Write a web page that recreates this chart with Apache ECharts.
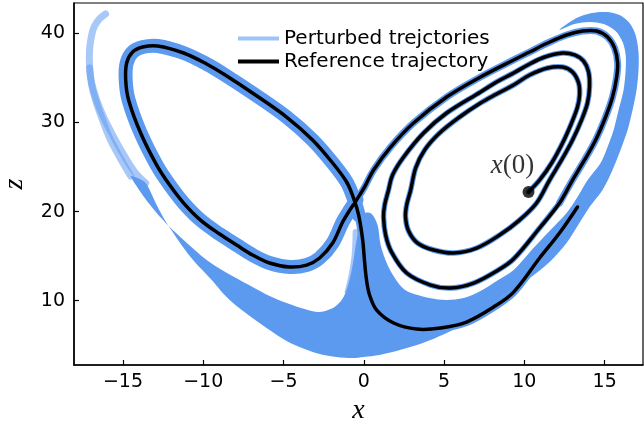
<!DOCTYPE html>
<html>
<head>
<meta charset="utf-8">
<script src="https://cdn.jsdelivr.net/npm/echarts@6/dist/echarts.min.js"></script>
<style>
  html, body { margin: 0; padding: 0; background: #fff; }
  #chart { width: 644px; height: 424px; }
</style>
</head>
<body>
<div id="chart"></div>
<script>
// Reference trajectory in the (x, z) plane, starting at x(0)
const refX = [10.26, 10.95, 11.70, 12.38, 12.94, 13.31, 13.44, 13.38, 13.00, 12.38,
  11.45, 10.33, 9.33, 8.27, 7.27, 5.97, 4.72, 3.79, 3.23, 2.92,
  2.67, 2.60, 2.79, 3.35, 4.35, 5.60, 7.03, 8.46, 9.70, 10.76,
  11.57, 12.32, 13.00, 13.56, 13.93, 14.06, 14.00, 13.69, 13.13, 12.38,
  11.26, 10.33, 9.33, 8.27, 7.27, 5.16, 3.72, 2.48, 1.79, 1.54,
  1.30, 1.23, 1.36, 1.73, 2.67, 4.16, 5.41, 6.84, 8.27, 9.33,
  10.95, 12.19, 13.00, 13.75, 14.44, 15.06, 15.49, 15.74, 15.81, 15.62,
  15.18, 14.50, 13.63, 12.63, 11.45, 10.33, 9.33, 7.27, 5.16, 3.10,
  1.67, 0.61, 0.05, -0.45, -0.95, -1.32, -1.94, -2.75, -3.56, -4.62,
  -5.87, -6.93, -7.92, -8.98, -10.17, -11.22, -12.09, -12.90, -13.90, -14.65,
  -14.83, -14.77, -14.40, -13.77, -12.84, -11.22, -9.79, -8.73, -6.93, -4.81,
  -3.19, -1.94, -1.07, -0.64, -0.32, -0.07, 0.05, 0.17, 0.36, 0.80,
  1.86, 3.29, 4.78, 6.40, 8.08, 9.33, 10.95, 12.19, 13.31];
const refZ = [22.20, 23.54, 25.45, 27.69, 29.94, 31.73, 33.08, 34.42, 35.66, 36.22,
  36.11, 35.32, 34.20, 33.19, 32.18, 30.61, 28.81, 26.91, 24.89, 22.42,
  20.74, 19.39, 17.82, 16.47, 15.69, 15.35, 15.91, 17.37, 19.05, 20.96,
  23.54, 25.79, 28.03, 30.27, 32.18, 33.97, 35.66, 36.89, 37.57, 37.79,
  37.34, 36.56, 35.55, 34.54, 33.42, 31.06, 28.81, 26.12, 24.10, 22.42,
  20.74, 19.39, 17.37, 15.46, 13.11, 11.76, 11.42, 11.98, 13.33, 14.68,
  18.16, 20.96, 23.54, 25.79, 28.03, 30.61, 32.85, 34.99, 36.67, 38.35,
  39.59, 40.26, 40.26, 39.81, 38.91, 37.90, 37.01, 35.10, 32.85, 29.94,
  27.24, 24.66, 22.76, 21.30, 19.95, 18.83, 16.47, 14.79, 14.00, 13.78,
  14.23, 15.13, 16.25, 17.48, 19.05, 20.96, 22.98, 25.22, 28.81, 32.52,
  34.76, 36.67, 37.90, 38.46, 38.58, 37.79, 36.56, 35.43, 33.30, 30.61,
  28.03, 25.45, 23.32, 21.52, 19.61, 16.81, 14.34, 12.32, 10.64, 8.95,
  7.50, 6.82, 6.94, 7.61, 9.29, 10.97, 14.79, 17.59, 20.51];

// Outline of the bundle of perturbed trajectories: inner edge, left to right
const bundleInnerX = [-14.52, -13.64, -12.90, -12.09, -11.22, -9.79, -8.73, -6.93, -5.87, -4.81,
  -3.69, -2.75, -1.82, -1.26, -0.89, -0.64, -0.45, -0.20, 0.11, 0.49,
  0.86, 1.05, 1.48, 2.10, 2.67, 4.10, 5.16, 6.22, 7.27, 8.27,
  9.33, 10.51, 11.57, 12.63, 13.31, 13.94, 14.75, 15.18, 15.56, 15.87,
  16.18, 16.31, 16.31, 16.12, 15.68, 14.94, 14.06, 13.13, 12.19];
const bundleInnerZ = [23.99, 21.52, 19.84, 18.27, 16.81, 14.56, 13.33, 11.54, 10.53, 9.74,
  9.07, 8.73, 9.29, 10.41, 12.32, 14.56, 16.81, 18.83, 19.84, 19.73,
  18.49, 16.25, 14.00, 12.10, 11.09, 10.30, 10.08, 10.30, 11.09, 12.21,
  13.44, 15.80, 17.82, 19.84, 21.63, 23.54, 25.45, 27.24, 29.15, 31.40,
  33.64, 35.88, 37.57, 39.02, 40.26, 41.04, 41.27, 41.04, 40.37];
// ...and outer edge, right to left
const bundleOuterX = [12.38, 13.25, 14.19, 15.12, 15.93, 16.55, 16.93, 17.11, 17.11, 16.99,
  16.74, 16.43, 15.99, 15.49, 14.87, 14.06, 12.63, 11.57, 10.51, 9.33,
  8.27, 7.27, 6.22, 5.16, 4.16, 3.10, 2.04, 0.98, -0.01, -0.70,
  -1.69, -2.75, -3.69, -4.81, -5.87, -6.93, -7.92, -8.73, -9.36, -10.79,
  -12.28, -12.90, -13.58, -14.08];
const bundleOuterZ = [40.71, 41.72, 42.28, 42.39, 42.05, 41.16, 39.81, 37.90, 35.88, 33.64,
  31.40, 29.15, 26.91, 24.66, 22.42, 20.51, 16.47, 14.34, 12.77, 11.42,
  9.96, 8.62, 7.39, 6.37, 5.59, 4.91, 4.35, 3.91, 3.68, 3.57,
  3.68, 4.02, 4.58, 5.48, 6.71, 8.06, 9.40, 10.75, 12.10, 14.90,
  18.72, 20.74, 23.20, 23.77];

// Sparse perturbed strands on the far left
const strandAX = [-16.08, -16.46, -16.77, -16.95, -17.08, -17.08, -16.95, -16.71, -16.27, -15.83, -15.21, -14.52];
const strandAZ = [42.17, 41.61, 40.82, 39.81, 38.13, 36.22, 34.20, 32.52, 30.27, 28.25, 26.12, 23.99];
const strandBX = [-17.08, -16.95, -16.64, -16.21, -15.64, -15.02, -14.27, -13.58];
const strandBZ = [36.11, 34.42, 32.52, 30.61, 28.59, 26.57, 24.44, 23.20];
// Strand falling through the gap near the origin
const strandCX = [-0.51, -0.57, -0.76, -1.01];
const strandCZ = [17.71, 15.13, 12.88, 10.97];

const xTicks = [-15, -10, -5, 0, 5, 10, 15];
const zTicks = [10, 20, 30, 40];

const PERTURBED = 'Perturbed trejctories';
const REFERENCE = 'Reference trajectory';
const BLUE = '#5c9af0';
const BLUE_LIGHT = 'rgba(96,154,240,0.55)';

const zip = (xs, zs) => xs.map((x, i) => [x, zs[i]]);
const ref = zip(refX, refZ);
const bundle = zip(bundleInnerX, bundleInnerZ).concat(zip(bundleOuterX, bundleOuterZ));

// Smooth polyline through data points, placed with the cartesian axes
function curve(name, pts, color, width, z) {
  return {
    type: 'custom', name, coordinateSystem: 'cartesian2d', z, silent: true,
    itemStyle: { color },
    data: [pts[0]],
    renderItem: (params, api) => ({
      type: 'polyline',
      shape: { points: pts.map(p => api.coord(p)), smooth: 0.35 },
      style: { stroke: color, lineWidth: width, fill: null, lineCap: 'round', lineJoin: 'round' }
    })
  };
}

const chart = echarts.init(document.getElementById('chart'), null, { renderer: 'canvas' });
chart.setOption({
  animation: false,
  backgroundColor: '#fff',
  textStyle: { fontFamily: 'DejaVu Sans' },
  grid: { left: 74, right: 1, top: 3, bottom: 59, show: true, borderColor: '#000', borderWidth: 1.2, outerBoundsMode: 'none' },
  legend: {
    orient: 'vertical', left: 238, top: 27, padding: 0,
    itemWidth: 41, itemHeight: 4, itemGap: 0, icon: 'rect',
    textStyle: { fontFamily: 'DejaVu Sans', fontSize: 20, lineHeight: 23, color: '#000' },
    data: [
      { name: PERTURBED, itemStyle: { color: '#9ec3f6' } },
      { name: REFERENCE, itemStyle: { color: '#000' } }
    ],
    selectedMode: false
  },
  xAxis: {
    type: 'value', min: -18.05, max: 17.39,
    name: 'x', nameLocation: 'middle', nameGap: 28,
    nameTextStyle: { fontFamily: 'Liberation Serif', fontStyle: 'italic', fontSize: 28, color: '#000' },
    splitLine: { show: false },
    axisLine: { show: true, onZero: false, lineStyle: { color: '#000', width: 1.5 } },
    axisTick: { show: true, inside: true, length: 5, customValues: xTicks, lineStyle: { color: '#000', width: 1.2 } },
    axisLabel: { customValues: xTicks, margin: 8, fontSize: 19, color: '#000', fontFamily: 'DejaVu Sans',
      formatter: v => (v < 0 ? '\u2212' + Math.abs(v) : String(v)) }
  },
  yAxis: {
    type: 'value', min: 2.79, max: 43.4,
    name: 'z', nameLocation: 'middle', nameGap: 45, nameRotate: 90,
    nameTextStyle: { fontFamily: 'Liberation Serif', fontStyle: 'italic', fontSize: 28, color: '#000' },
    splitLine: { show: false },
    axisLine: { show: true, onZero: false, lineStyle: { color: '#000', width: 1.5 } },
    axisTick: { show: true, inside: true, length: 5, customValues: zTicks, lineStyle: { color: '#000', width: 1.2 } },
    axisLabel: { customValues: zTicks, margin: 9, fontSize: 19, color: '#000', fontFamily: 'DejaVu Sans' }
  },
  series: [
    {
      type: 'custom', name: PERTURBED, coordinateSystem: 'cartesian2d', z: 1, silent: true,
      itemStyle: { color: BLUE },
      data: [bundle[0]],
      renderItem: (params, api) => ({
        type: 'polygon',
        shape: { points: bundle.map(p => api.coord(p)), smooth: 0.3 },
        style: { fill: BLUE }
      })
    },
    curve(PERTURBED, zip(strandAX, strandAZ), BLUE_LIGHT, 7, 2),
    curve(PERTURBED, zip(strandBX, strandBZ), BLUE_LIGHT, 7, 2),
    curve(PERTURBED, zip(strandCX, strandCZ), BLUE_LIGHT, 6, 2),
    curve(PERTURBED, ref.slice(0, 62), BLUE, 5.5, 3),
    curve(PERTURBED, ref.slice(61, 84), BLUE, 7, 3),
    curve(PERTURBED, ref.slice(83, 115), BLUE, 14, 3),
    curve(PERTURBED, ref.slice(114), BLUE, 8, 3),
    curve(REFERENCE, ref, '#000', 3.5, 4),
    {
      type: 'scatter', name: 'x(0)', z: 5, silent: true,
      data: [[refX[0], refZ[0]]],
      symbol: 'circle', symbolSize: 12,
      itemStyle: { color: '#000' },
      label: {
        show: true, position: 'top', distance: 7, offset: [-16, 0],
        formatter: '{i|x}{n|(0)}',
        rich: {
          i: { fontFamily: 'Liberation Serif', fontStyle: 'italic', fontSize: 27, color: '#000' },
          n: { fontFamily: 'Liberation Serif', fontSize: 27, color: '#000' }
        }
      }
    }
  ]
});
</script>
</body>
</html>
